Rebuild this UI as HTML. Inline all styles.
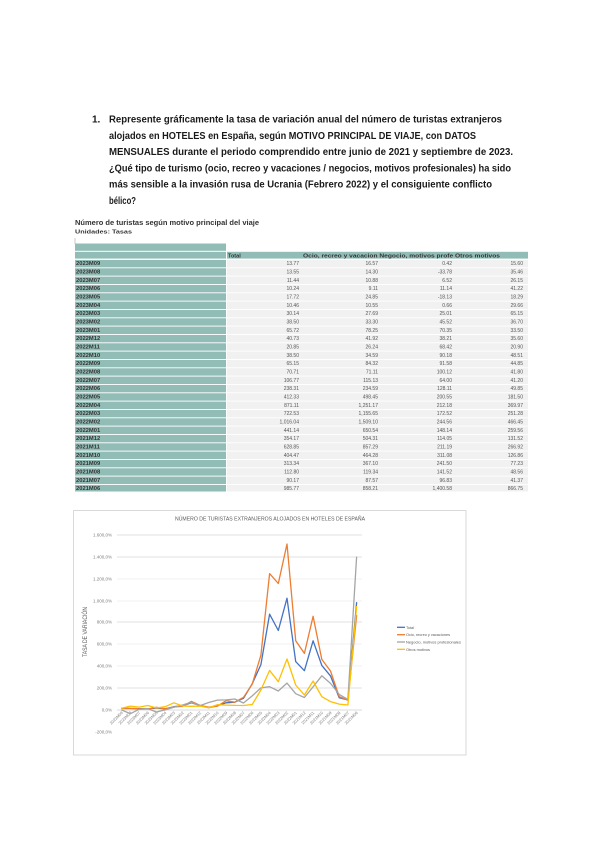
<!DOCTYPE html>
<html><head><meta charset="utf-8"><style>
html,body{margin:0;padding:0;background:#fff;}
svg{display:block;}
text{font-family:"Liberation Sans",Arial,sans-serif;}
</style></head><body>
<svg width="600" height="848" viewBox="0 0 600 848" xmlns="http://www.w3.org/2000/svg">
<defs>
<pattern id="rows" x="0" y="259" width="600" height="8.333" patternUnits="userSpaceOnUse"><rect width="600" height="0.9" fill="#fff"/></pattern>
</defs>
<rect width="600" height="848" fill="#fff"/>

<!-- Question -->
<g font-weight="bold" font-size="10" fill="#1a1a1a">
<text x="92" y="122.5">1.</text>
<text x="109" y="122.5" textLength="393" lengthAdjust="spacingAndGlyphs">Represente gráficamente la tasa de variación anual del número de turistas extranjeros</text>
<text x="109" y="138.8" textLength="367" lengthAdjust="spacingAndGlyphs">alojados en HOTELES en España, según MOTIVO PRINCIPAL DE VIAJE, con DATOS</text>
<text x="109" y="155.1" textLength="404" lengthAdjust="spacingAndGlyphs">MENSUALES durante el periodo comprendido entre junio de 2021 y septiembre de 2023.</text>
<text x="109" y="171.4" textLength="402" lengthAdjust="spacingAndGlyphs">¿Qué tipo de turismo (ocio, recreo y vacaciones / negocios, motivos profesionales) ha sido</text>
<text x="109" y="187.7" textLength="383" lengthAdjust="spacingAndGlyphs">más sensible a la invasión rusa de Ucrania (Febrero 2022) y el consiguiente conflicto</text>
<text x="109" y="204" textLength="27" lengthAdjust="spacingAndGlyphs">bélico?</text>
</g>

<!-- Table -->
<text x="75" y="225" font-size="7.5" font-weight="bold" fill="#333" textLength="184" lengthAdjust="spacingAndGlyphs">Número de turistas según motivo principal del viaje</text>
<text x="75" y="233.5" font-size="5.5" font-weight="bold" fill="#333" textLength="57" lengthAdjust="spacingAndGlyphs">Unidades: Tasas</text>
<line x1="75" y1="238" x2="75" y2="244" stroke="#bbb" stroke-width="0.8"/>
<rect x="75" y="243.5" width="151" height="7.3" fill="#92bdb7"/>
<rect x="75" y="251.8" width="151" height="6.8" fill="#92bdb7"/>
<rect x="227" y="251.8" width="301" height="6.8" fill="#92bdb7"/>
<text x="228" y="257.3" font-size="5.5" font-weight="bold" fill="#333">Total</text>
<text x="303" y="257.3" font-size="5.5" font-weight="bold" fill="#333" textLength="197" lengthAdjust="spacingAndGlyphs">Ocio, recreo y vacacion Negocio, motivos profe Otros motivos</text>
<rect x="75" y="259" width="151" height="232.5" fill="#92bdb7"/>
<rect x="227" y="259" width="301" height="232.5" fill="#f1f1f1"/>
<rect x="75" y="259" width="453" height="232.5" fill="url(#rows)"/>

<g font-size="5.8" font-weight="bold" fill="#333">
<text x="76" y="265.2">2023M09</text><text x="76" y="273.5">2023M08</text><text x="76" y="281.9">2023M07</text><text x="76" y="290.2">2023M06</text><text x="76" y="298.5">2023M05</text><text x="76" y="306.9">2023M04</text><text x="76" y="315.2">2023M03</text><text x="76" y="323.5">2023M02</text><text x="76" y="331.9">2023M01</text><text x="76" y="340.2">2022M12</text><text x="76" y="348.5">2022M11</text><text x="76" y="356.9">2022M10</text><text x="76" y="365.2">2022M09</text><text x="76" y="373.5">2022M08</text><text x="76" y="381.9">2022M07</text><text x="76" y="390.2">2022M06</text><text x="76" y="398.5">2022M05</text><text x="76" y="406.9">2022M04</text><text x="76" y="415.2">2022M03</text><text x="76" y="423.5">2022M02</text><text x="76" y="431.9">2022M01</text><text x="76" y="440.2">2021M12</text><text x="76" y="448.5">2021M11</text><text x="76" y="456.9">2021M10</text><text x="76" y="465.2">2021M09</text><text x="76" y="473.5">2021M08</text><text x="76" y="481.9">2021M07</text><text x="76" y="490.2">2021M06</text>
</g>
<g font-size="5" fill="#555" text-anchor="end">
<text x="299" y="265.2">13.77</text><text x="299" y="273.5">13.55</text><text x="299" y="281.9">11.44</text><text x="299" y="290.2">10.24</text><text x="299" y="298.5">17.72</text><text x="299" y="306.9">10.46</text><text x="299" y="315.2">30.14</text><text x="299" y="323.5">38.50</text><text x="299" y="331.9">65.72</text><text x="299" y="340.2">40.73</text><text x="299" y="348.5">20.85</text><text x="299" y="356.9">38.50</text><text x="299" y="365.2">65.15</text><text x="299" y="373.5">70.71</text><text x="299" y="381.9">106.77</text><text x="299" y="390.2">238.31</text><text x="299" y="398.5">412.33</text><text x="299" y="406.9">871.11</text><text x="299" y="415.2">722.53</text><text x="299" y="423.5">1,016.04</text><text x="299" y="431.9">441.14</text><text x="299" y="440.2">354.17</text><text x="299" y="448.5">628.85</text><text x="299" y="456.9">404.47</text><text x="299" y="465.2">313.34</text><text x="299" y="473.5">112.80</text><text x="299" y="481.9">90.17</text><text x="299" y="490.2">985.77</text>

<text x="378" y="265.2">16.57</text><text x="378" y="273.5">14.30</text><text x="378" y="281.9">10.88</text><text x="378" y="290.2">9.11</text><text x="378" y="298.5">24.85</text><text x="378" y="306.9">10.55</text><text x="378" y="315.2">27.69</text><text x="378" y="323.5">33.30</text><text x="378" y="331.9">78.25</text><text x="378" y="340.2">41.92</text><text x="378" y="348.5">26.24</text><text x="378" y="356.9">34.59</text><text x="378" y="365.2">84.32</text><text x="378" y="373.5">71.11</text><text x="378" y="381.9">115.13</text><text x="378" y="390.2">234.59</text><text x="378" y="398.5">498.45</text><text x="378" y="406.9">1,251.17</text><text x="378" y="415.2">1,155.65</text><text x="378" y="423.5">1,509.10</text><text x="378" y="431.9">650.54</text><text x="378" y="440.2">504.31</text><text x="378" y="448.5">857.29</text><text x="378" y="456.9">464.28</text><text x="378" y="465.2">367.10</text><text x="378" y="473.5">119.34</text><text x="378" y="481.9">87.57</text><text x="378" y="490.2">858.21</text>

<text x="452" y="265.2">0.42</text><text x="452" y="273.5">-33.78</text><text x="452" y="281.9">6.52</text><text x="452" y="290.2">11.14</text><text x="452" y="298.5">-18.13</text><text x="452" y="306.9">0.66</text><text x="452" y="315.2">25.01</text><text x="452" y="323.5">45.52</text><text x="452" y="331.9">70.35</text><text x="452" y="340.2">38.21</text><text x="452" y="348.5">68.42</text><text x="452" y="356.9">90.18</text><text x="452" y="365.2">91.58</text><text x="452" y="373.5">100.12</text><text x="452" y="381.9">64.00</text><text x="452" y="390.2">128.11</text><text x="452" y="398.5">200.55</text><text x="452" y="406.9">212.18</text><text x="452" y="415.2">172.52</text><text x="452" y="423.5">244.56</text><text x="452" y="431.9">148.14</text><text x="452" y="440.2">114.05</text><text x="452" y="448.5">211.19</text><text x="452" y="456.9">311.08</text><text x="452" y="465.2">241.50</text><text x="452" y="473.5">141.52</text><text x="452" y="481.9">96.83</text><text x="452" y="490.2">1,400.58</text>

<text x="523" y="265.2">15.60</text><text x="523" y="273.5">35.46</text><text x="523" y="281.9">26.15</text><text x="523" y="290.2">41.22</text><text x="523" y="298.5">18.29</text><text x="523" y="306.9">29.66</text><text x="523" y="315.2">65.15</text><text x="523" y="323.5">36.70</text><text x="523" y="331.9">33.50</text><text x="523" y="340.2">35.60</text><text x="523" y="348.5">20.90</text><text x="523" y="356.9">48.51</text><text x="523" y="365.2">44.85</text><text x="523" y="373.5">41.80</text><text x="523" y="381.9">41.20</text><text x="523" y="390.2">49.85</text><text x="523" y="398.5">181.50</text><text x="523" y="406.9">369.97</text><text x="523" y="415.2">251.28</text><text x="523" y="423.5">466.45</text><text x="523" y="431.9">259.56</text><text x="523" y="440.2">131.52</text><text x="523" y="448.5">266.92</text><text x="523" y="456.9">126.86</text><text x="523" y="465.2">77.23</text><text x="523" y="473.5">48.56</text><text x="523" y="481.9">41.37</text><text x="523" y="490.2">866.75</text>
</g>

<!-- Chart -->
<rect x="73.5" y="510.5" width="392.5" height="244.5" fill="#fff" stroke="#d9d9d9" stroke-width="1"/>
<text x="270" y="520.5" font-size="5.5" fill="#595959" text-anchor="middle" textLength="190" lengthAdjust="spacingAndGlyphs">NÚMERO DE TURISTAS EXTRANJEROS ALOJADOS EN HOTELES DE ESPAÑA</text>

<g stroke-width="0.8">
<line x1="117" y1="535" x2="362" y2="535" stroke="#d9d9d9"/>
<line x1="117" y1="557" x2="362" y2="557" stroke="#d9d9d9"/>
<line x1="117" y1="579" x2="362" y2="579" stroke="#ececec"/>
<line x1="117" y1="601" x2="362" y2="601" stroke="#ececec"/>
<line x1="117" y1="622" x2="362" y2="622" stroke="#d9d9d9"/>
<line x1="117" y1="644" x2="362" y2="644" stroke="#ececec"/>
<line x1="117" y1="666" x2="362" y2="666" stroke="#ececec"/>
<line x1="117" y1="688" x2="362" y2="688" stroke="#d9d9d9"/>
<line x1="117" y1="710" x2="362" y2="710" stroke="#cfcfcf"/>
</g>

<g font-size="4.5" fill="#7f7f7f" text-anchor="end">
<text x="112" y="536.6">1.600,0%</text>
<text x="112" y="558.6">1.400,0%</text>
<text x="112" y="580.6">1.200,0%</text>
<text x="112" y="602.6">1.000,0%</text>
<text x="112" y="623.6">800,0%</text>
<text x="112" y="645.6">600,0%</text>
<text x="112" y="667.6">400,0%</text>
<text x="112" y="689.6">200,0%</text>
<text x="112" y="711.6">0,0%</text>
<text x="112" y="733.6">-200,0%</text>
</g>

<text transform="translate(87,632) rotate(-90)" font-size="6" fill="#595959" text-anchor="middle" textLength="50" lengthAdjust="spacingAndGlyphs">TASA DE VARIACIÓN</text>

<g font-size="4" fill="#7f7f7f" text-anchor="end">
<text transform="translate(123.2,713) rotate(-45)">2023M09</text>
<text transform="translate(131.9,713) rotate(-45)">2023M08</text>
<text transform="translate(140.6,713) rotate(-45)">2023M07</text>
<text transform="translate(149.3,713) rotate(-45)">2023M06</text>
<text transform="translate(158,713) rotate(-45)">2023M05</text>
<text transform="translate(166.7,713) rotate(-45)">2023M04</text>
<text transform="translate(175.4,713) rotate(-45)">2023M03</text>
<text transform="translate(184.1,713) rotate(-45)">2023M02</text>
<text transform="translate(192.8,713) rotate(-45)">2023M01</text>
<text transform="translate(201.5,713) rotate(-45)">2022M12</text>
<text transform="translate(210.2,713) rotate(-45)">2022M11</text>
<text transform="translate(218.9,713) rotate(-45)">2022M10</text>
<text transform="translate(227.6,713) rotate(-45)">2022M09</text>
<text transform="translate(236.3,713) rotate(-45)">2022M08</text>
<text transform="translate(245,713) rotate(-45)">2022M07</text>
<text transform="translate(253.7,713) rotate(-45)">2022M06</text>
<text transform="translate(262.4,713) rotate(-45)">2022M05</text>
<text transform="translate(271.1,713) rotate(-45)">2022M04</text>
<text transform="translate(279.8,713) rotate(-45)">2022M03</text>
<text transform="translate(288.5,713) rotate(-45)">2022M02</text>
<text transform="translate(297.2,713) rotate(-45)">2022M01</text>
<text transform="translate(305.9,713) rotate(-45)">2021M12</text>
<text transform="translate(314.6,713) rotate(-45)">2021M11</text>
<text transform="translate(323.3,713) rotate(-45)">2021M10</text>
<text transform="translate(332,713) rotate(-45)">2021M09</text>
<text transform="translate(340.7,713) rotate(-45)">2021M08</text>
<text transform="translate(349.4,713) rotate(-45)">2021M07</text>
<text transform="translate(358.1,713) rotate(-45)">2021M06</text>
</g>

<g fill="none" stroke-width="1.3" stroke-linejoin="round" stroke-linecap="round">
<polyline stroke="#4472c4" points="121.7,708.5 130.4,708.5 139.1,708.7 147.8,708.9 156.5,708.1 165.2,708.8 173.9,706.7 182.6,705.8 191.3,702.8 200,705.5 208.7,707.7 217.4,705.8 226.1,702.8 234.8,702.2 243.5,698.3 252.2,683.8 260.9,664.6 269.6,614.2 278.3,630.5 287,598.2 295.7,661.6 304.4,670.7 313.1,640.8 321.8,665.4 330.5,675.9 339.2,697.7 347.9,700 356.6,602.7"/>
<polyline stroke="#ed7d31" points="121.7,708.2 130.4,708.4 139.1,708.8 147.8,709 156.5,707.3 165.2,708.8 173.9,707 182.6,706.3 191.3,701.4 200,705.4 208.7,707.1 217.4,706.2 226.1,700.7 234.8,702.2 243.5,697.3 252.2,684.2 260.9,655.2 269.6,573.6 278.3,583.5 287,544 295.7,640.7 304.4,653.4 313.1,616.3 321.8,659.4 330.5,671 339.2,696.6 347.9,700.1 356.6,615.6"/>
<polyline stroke="#a5a5a5" points="121.7,710 130.4,713.7 139.1,709.3 147.8,708.8 156.5,712 165.2,709.9 173.9,707.2 182.6,705 191.3,702.3 200,705.6 208.7,702.5 217.4,700.1 226.1,699.9 234.8,699 243.5,703 252.2,695.9 260.9,687.9 269.6,686.7 278.3,691 287,683.1 295.7,693.7 304.4,697.5 313.1,686.8 321.8,675.8 330.5,683.4 339.2,694.4 347.9,699.4 356.6,557.1"/>
<polyline stroke="#ffc000" points="121.7,708.3 130.4,706.1 139.1,707.1 147.8,705.5 156.5,708 165.2,706.7 173.9,702.8 182.6,706 191.3,706.3 200,706.1 208.7,707.7 217.4,704.7 226.1,705.1 234.8,705.4 243.5,705.5 252.2,704.5 260.9,690 269.6,670.4 278.3,681.7 287,659 295.7,685 304.4,695 313.1,681 321.8,696.7 330.5,701.6 339.2,704.1 347.9,705 356.6,606.6"/>
</g>

<!-- Legend -->
<g stroke-width="1.3">
<line x1="397" y1="627.3" x2="405" y2="627.3" stroke="#4472c4"/>
<line x1="397" y1="634.7" x2="405" y2="634.7" stroke="#ed7d31"/>
<line x1="397" y1="642" x2="405" y2="642" stroke="#a5a5a5"/>
<line x1="397" y1="649.3" x2="405" y2="649.3" stroke="#ffc000"/>
</g>
<g font-size="4" fill="#595959">
<text x="406" y="628.8" textLength="8" lengthAdjust="spacingAndGlyphs">Total</text>
<text x="406" y="636.2" textLength="44" lengthAdjust="spacingAndGlyphs">Ocio, recreo y vacaciones</text>
<text x="406" y="643.5" textLength="55" lengthAdjust="spacingAndGlyphs">Negocio, motivos profesionales</text>
<text x="406" y="650.8" textLength="24" lengthAdjust="spacingAndGlyphs">Otros motivos</text>
</g>
</svg>
</body></html>
